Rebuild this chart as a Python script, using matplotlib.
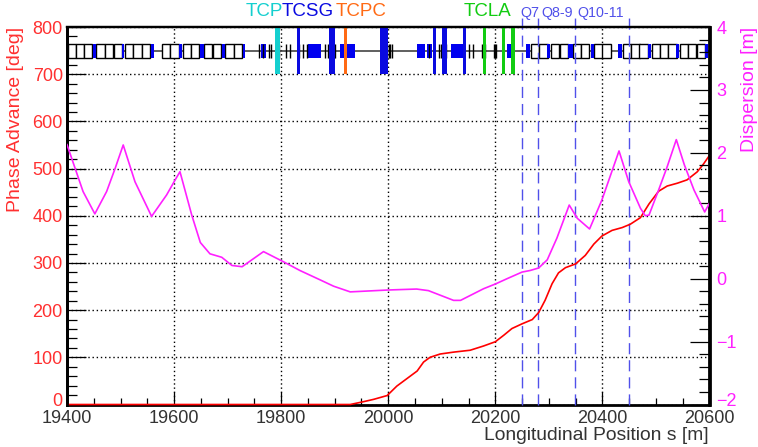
import matplotlib
matplotlib.use('Agg')
import matplotlib.pyplot as plt
from matplotlib.ticker import MultipleLocator
from matplotlib.transforms import ScaledTranslation

plt.rcParams['font.family'] = ['Liberation Sans', 'DejaVu Sans']

# optics
phase_s = [19400, 19929, 19954, 19973, 19998, 20016, 20035, 20054, 20066, 20078, 20097,
           20122, 20153, 20178, 20200, 20216, 20231, 20250, 20269, 20281, 20293, 20306,
           20318, 20331, 20350, 20368, 20384, 20399, 20418, 20437, 20452, 20471, 20487,
           20505, 20521, 20540, 20558, 20577, 20589, 20600]
phase_deg = [0, 0, 6, 11, 19, 39, 55, 71, 90, 100, 107,
             111, 115, 124, 133, 147, 161, 171, 180, 195, 221, 256,
             279, 290, 298, 316, 340, 357, 369, 375, 382, 396, 425,
             452, 463, 469, 476, 493, 510, 528]

disp_s = [19400, 19430, 19452, 19474, 19490, 19505, 19527, 19558, 19586, 19602, 19611,
          19633, 19649, 19667, 19689, 19708, 19727, 19767, 19804, 19835, 19873, 19898,
          19929, 20000, 20053, 20075, 20122, 20135, 20178, 20200, 20222, 20250, 20265,
          20281, 20297, 20315, 20338, 20353, 20376, 20399, 20431, 20449, 20471, 20480,
          20487, 20505, 20521, 20538, 20553, 20571, 20591, 20600]
disp_m = [2.13, 1.385, 1.03, 1.385, 1.755, 2.125, 1.54, 0.99, 1.33, 1.57, 1.70,
          1.01, 0.575, 0.395, 0.34, 0.21, 0.19, 0.43, 0.27, 0.13, -0.02, -0.12,
          -0.21, -0.18, -0.165, -0.19, -0.345, -0.345, -0.16, -0.085, 0.0, 0.105, 0.13,
          0.17, 0.30, 0.645, 1.17, 0.96, 0.79, 1.25, 2.03, 1.545, 1.12, 1.0,
          1.01, 1.41, 1.78, 2.21, 1.81, 1.41, 1.06, 1.2]

# machine layout: s of each element start, lengths
dipole_s = [19402, 19417, 19432, 19455, 19471, 19487, 19508, 19524, 19540, 19577, 19593,
            19616, 19631, 19656, 19672, 19696, 19712, 20266, 20282, 20304, 20320, 20345,
            20360, 20385, 20400, 20438, 20454, 20469, 20492, 20507, 20523, 20545, 20560, 20576]
quad_spans = [(19449, 5), (19502, 5), (19557, 6), (19609, 6), (19649, 7), (19690, 6), (19729, 4),
              (19763, 9), (19851, 24), (19910, 28), (20054, 15), (20073, 9), (20118, 23),
              (20221, 10), (20258, 6), (20297, 6), (20336, 9), (20378, 6), (20430, 6),
              (20485, 6), (20538, 5), (20592, 5)]
thin_s = [19758, 19766, 19777, 19781, 19790, 19793, 19796, 19809, 19817, 19834, 19840, 19848,
          19882, 19888, 19891, 19894, 19898, 19901, 19990, 19992, 19995, 19998, 20001, 20004, 20007,
          20076, 20095, 20098, 20103, 20108, 20151, 20158, 20175, 20180, 20197, 20199, 20201, 20215]

tcp_s = [(19789, 8)]
tcsg_s = [(19830, 6), (19890, 10), (19985, 14), (20084, 6), (20100, 10), (20139, 6)]
tcpc_s = [(19917, 6)]
tcla_s = [(20177, 6), (20212, 6), (20230, 6)]
tcp_col, tcsg_col, tcpc_col, tcla_col = '#14cfcf', '#0a0ae0', '#ff6a14', '#12cc12'

collimator_groups = [('TCP', tcp_s, tcp_col, 264), ('TCSG', tcsg_s, tcsg_col, 308),
                     ('TCPC', tcpc_s, tcpc_col, 361), ('TCLA', tcla_s, tcla_col, 488)]

dash_s = [20249, 20279, 20349, 20449]
dash_labels = ['Q7', 'Q8-9', 'Q10-11']
dash_label_px = [530, 557, 601]

red_txt = '#ff3030'
magenta = '#ff20ff'
dash_col = '#5050ea'

W, H = 758, 447
fig = plt.figure(figsize=(W / 100, H / 100), dpi=100)
ax = fig.add_axes([67 / W, 1 - 404.5 / H, 642.5 / W, 377.5 / H])
ax2 = ax.twinx()
ax.set_zorder(2)
ax2.set_zorder(3)
ax2.patch.set_visible(False)

ax.set_xlim(19400, 20600)
ax.set_ylim(0, 800)
ax2.set_ylim(-2, 4)

ax.xaxis.set_major_locator(MultipleLocator(200))
ax.xaxis.set_minor_locator(MultipleLocator(50))
ax.yaxis.set_major_locator(MultipleLocator(100))
ax.yaxis.set_minor_locator(MultipleLocator(20))
ax2.yaxis.set_major_locator(MultipleLocator(1))
ax2.yaxis.set_minor_locator(MultipleLocator(0.2))

ax.grid(True, which='major', color='black', linestyle=(0, (1, 2)), linewidth=1)
ax.set_axisbelow(True)

ax.tick_params(axis='x', which='major', direction='in', length=9.5, width=0.9, labelsize=13,
               labelcolor='#333333', pad=4)
ax.tick_params(axis='x', which='minor', direction='in', length=5, width=0.9)
ax.tick_params(axis='y', which='major', direction='in', length=14, width=0.9, labelsize=13,
               labelcolor=red_txt, pad=3)
ax.tick_params(axis='y', which='minor', direction='in', length=7, width=0.9)
ax2.tick_params(axis='y', which='major', direction='in', length=14, width=0.9, labelsize=13,
                labelcolor=magenta, pad=5)
ax2.tick_params(axis='y', which='minor', direction='in', length=7, width=0.9)

for a in (ax, ax2):
    for name, spine in a.spines.items():
        spine.set_linewidth(2 if name != 'top' else 1.6)
ax2.spines['bottom'].set_visible(False)

# machine strip
ax.plot([19400, 20600], [750, 750], color='#444444', lw=1.2, zorder=2)
ax.bar(dipole_s, 30, width=15.5, bottom=735, align='edge', facecolor='white', edgecolor='black',
       linewidth=1, zorder=3)
ax.broken_barh(quad_spans, (735, 30), facecolor='#0000f0', zorder=4)
ax.vlines(thin_s, 735, 765, color='black', lw=1, zorder=5)
for name, spans, col, px in collimator_groups:
    ax.broken_barh(spans, (700, 100), facecolor=col, zorder=6)
    fig.text(px / W, 1 - 12 / H, name, color=col, fontsize=13.5, ha='center', va='center')

# quadrupole markers reach above the frame
for s in dash_s:
    ax.axvline(s, ymin=0, ymax=1.033, color=dash_col, lw=1, linestyle=(0, (8, 4.3)),
               clip_on=False, zorder=7)
for lab, px in zip(dash_labels, dash_label_px):
    fig.text(px / W, 1 - 13 / H, lab, color=dash_col, fontsize=10.3, ha='center', va='center')

ax.plot(phase_s, phase_deg, color='#ff0000', lw=1.2, zorder=8, clip_on=False)
ax2.plot(disp_s, disp_m, color=magenta, lw=1.2, zorder=8)

fig.text(16 / W, 1 - 27 / H, 'Phase Advance [deg]', color=red_txt, fontsize=14, rotation=90,
         ha='center', va='top')
fig.text(750 / W, 1 - 27 / H, 'Dispersion [m]', color=magenta, fontsize=14, rotation=90,
         ha='center', va='top')
fig.text(709 / W, 1 - 435 / H, 'Longitudinal Position s [m]', color='#333333', fontsize=13.9,
         ha='right', va='center')

# the lowest tick labels sit a little above their ticks
fig.canvas.draw()
up = ScaledTranslation(0, 5 / 100, fig.dpi_scale_trans)
for tick_ax, val in ((ax, 0), (ax2, -2)):
    for t, loc in zip(tick_ax.yaxis.get_major_ticks(), tick_ax.get_yticks()):
        if loc == val:
            t.label1.set_transform(t.label1.get_transform() + up)
            t.label2.set_transform(t.label2.get_transform() + up)

fig.savefig('out.png', dpi=100)
